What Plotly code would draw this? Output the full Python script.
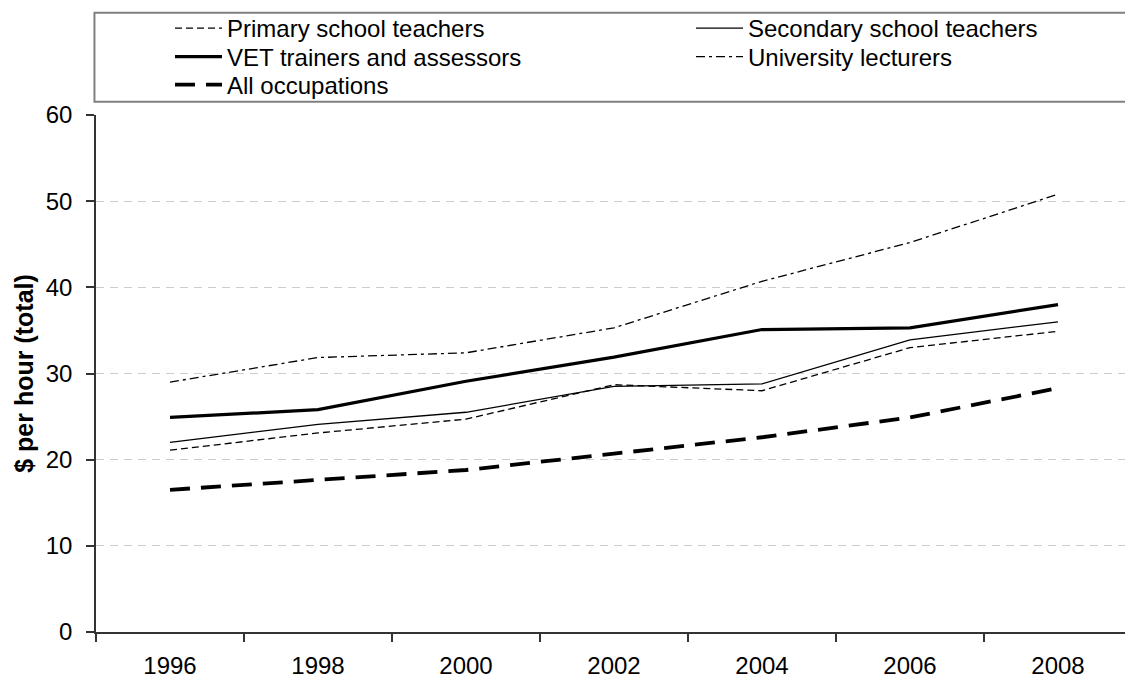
import plotly.graph_objects as go

years = ["1996", "1998", "2000", "2002", "2004", "2006", "2008"]
primary = [21.1, 23.1, 24.7, 28.7, 28.0, 33.0, 34.9]
secondary = [22.0, 24.1, 25.5, 28.5, 28.8, 33.9, 36.0]
vet = [24.9, 25.8, 29.1, 31.9, 35.1, 35.3, 38.0]
university = [29.0, 31.85, 32.4, 35.3, 40.7, 45.2, 50.8]
all_occ = [16.5, 17.7, 18.8, 20.7, 22.6, 24.9, 28.3]

series_names = ["Primary school teachers", "Secondary school teachers",
                "VET trainers and assessors", "University lecturers", "All occupations"]
series_values = [primary, secondary, vet, university, all_occ]
styles = [
    dict(width=1.3, dash="7px,4px"),
    dict(width=1.3, dash="solid"),
    dict(width=3.2, dash="solid"),
    dict(width=1.3, dash="9px,4px,3px,4px"),
    dict(width=3.8, dash="20px,11px"),
]
# legend slot for each series: (legend id, left px of legend, row centre px)
legend_slots = [("legend", 170, 28.5), ("legend2", 691, 28.5),
                ("legend3", 170, 57), ("legend4", 691, 57),
                ("legend5", 170, 85)]

FONT = "Arial, Liberation Sans, sans-serif"
W, H = 1125, 678
L, R, T, B = 96, 0, 115, 46
PW, PH = W - L - R, H - T - B
cat_px = 148
right_end = -0.5 + PW / cat_px

fig = go.Figure()
for name, vals, st, slot in zip(series_names, series_values, styles, legend_slots):
    fig.add_trace(go.Scatter(x=years, y=vals, name=name, mode="lines",
                             legend=slot[0],
                             line=dict(color="black", **st)))

legends = {}
for lid, left, yc in legend_slots:
    legends[lid] = dict(xref="paper", yref="paper",
                        x=(left - L) / PW, xanchor="left",
                        y=1 + (T - yc) / PH, yanchor="middle",
                        bgcolor="rgba(0,0,0,0)", borderwidth=0, itemwidth=47,
                        font=dict(family=FONT, size=24, color="black"))

fig.update_layout(
    width=W, height=H,
    margin=dict(l=L, r=R, t=T, b=B, autoexpand=False),
    paper_bgcolor="white", plot_bgcolor="white",
    font=dict(family=FONT, size=24, color="black"),
    showlegend=True,
    **legends,
    xaxis=dict(type="category", range=[-0.5, right_end], tickson="boundaries",
               ticks="outside", ticklen=8, tickwidth=1.5, tickcolor="#333333",
               showline=True, linecolor="#333333", linewidth=1.5,
               showgrid=False, tickfont=dict(size=24), ticklabelstandoff=11,
               tickangle=0),
    yaxis=dict(range=[0, 60], tickvals=[0, 10, 20, 30, 40, 50, 60],
               ticks="outside", ticklen=8, tickwidth=1.5, tickcolor="#333333",
               showline=True, linecolor="#333333", linewidth=1.5,
               showgrid=True, gridcolor="#cccccc", griddash="8px,6px", gridwidth=1,
               zeroline=False, tickfont=dict(size=24), ticklabelstandoff=9,
               title=dict(text="<b>$ per hour (total)</b>", font=dict(size=25), standoff=5)),
)

# legend frame
fig.add_shape(type="rect", xref="paper", yref="paper",
              x0=-0.0015, x1=1.05, y0=1 + (T - 101.7) / PH, y1=1 + (T - 12.7) / PH,
              line=dict(color="#808080", width=2), fillcolor="rgba(0,0,0,0)", layer="below")

fig.write_html("out.html")
